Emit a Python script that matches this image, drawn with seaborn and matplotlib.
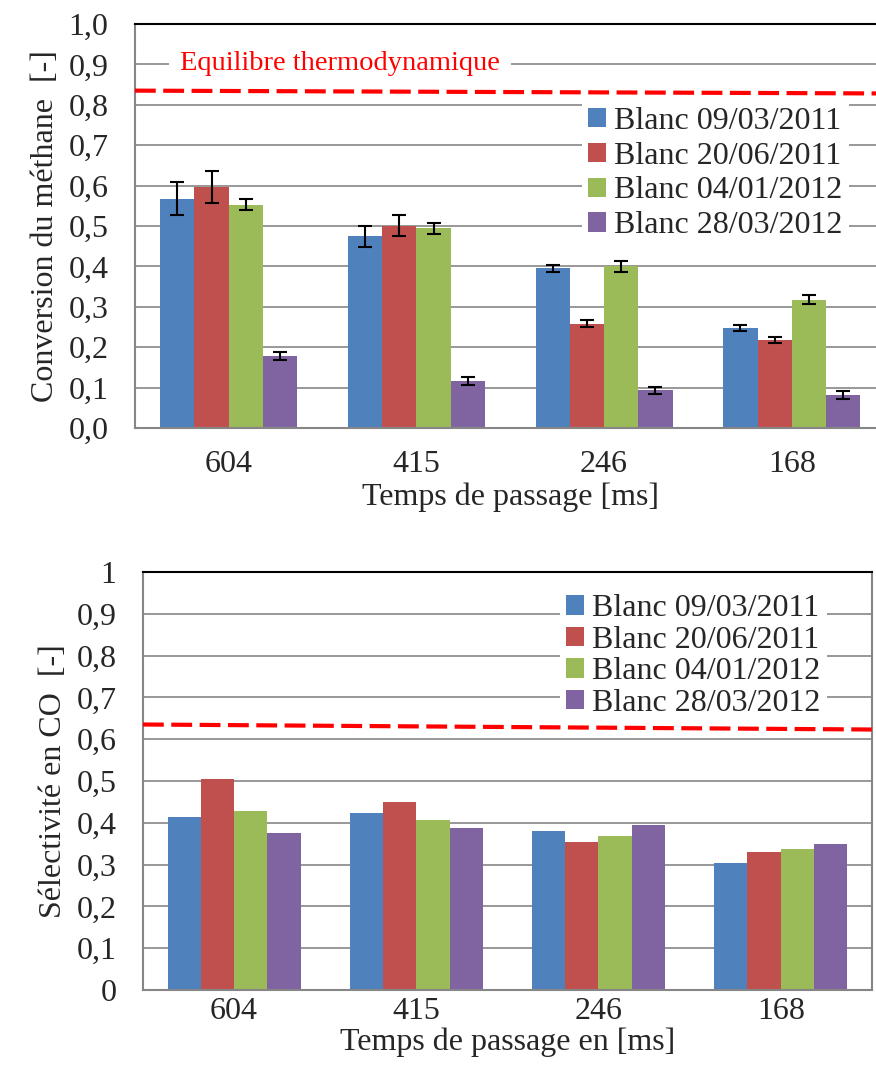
import pandas as pd
import matplotlib
matplotlib.use('Agg')
import matplotlib.pyplot as plt
import seaborn as sns

sns.set_style('white')
plt.rcParams['font.family'] = ['Liberation Serif', 'DejaVu Serif']

# donnees
temps = ['604', '415', '246', '168']
series = ['Blanc 09/03/2011', 'Blanc 20/06/2011', 'Blanc 04/01/2012', 'Blanc 28/03/2012']
couleurs = ['#4F81BD', '#C0504D', '#9BBB59', '#8064A2']

conv_0903 = [0.568, 0.474, 0.395, 0.247]
conv_2006 = [0.596, 0.501, 0.258, 0.218]
conv_0401 = [0.553, 0.494, 0.400, 0.318]
conv_2803 = [0.179, 0.117, 0.093, 0.082]

err_0903 = [0.040, 0.026, 0.009, 0.008]
err_2006 = [0.040, 0.025, 0.009, 0.008]
err_0401 = [0.013, 0.013, 0.013, 0.012]
err_2803 = [0.010, 0.010, 0.009, 0.009]

sel_0903 = [0.413, 0.423, 0.380, 0.303]
sel_2006 = [0.505, 0.450, 0.353, 0.329]
sel_0401 = [0.428, 0.406, 0.368, 0.337]
sel_2803 = [0.375, 0.387, 0.394, 0.349]

# equilibre thermodynamique (debut et fin de la ligne)
eq_x = [-0.5, 3.5]
eq_conv = [0.835, 0.828]
eq_sel = [0.635, 0.623]

yticks = [0.0, 0.1, 0.2, 0.3, 0.4, 0.5, 0.6, 0.7, 0.8, 0.9, 1.0]
ylabels_conv = ['0,0', '0,1', '0,2', '0,3', '0,4', '0,5', '0,6', '0,7', '0,8', '0,9', '1,0']
ylabels_sel = ['0', '0,1', '0,2', '0,3', '0,4', '0,5', '0,6', '0,7', '0,8', '0,9', '1']


def to_long(cols):
    rows = []
    for s, vals in zip(series, cols):
        for t, v in zip(temps, vals):
            rows.append({'Temps': t, 'Serie': s, 'Valeur': v})
    return pd.DataFrame(rows)


conv_df = to_long([conv_0903, conv_2006, conv_0401, conv_2803])
sel_df = to_long([sel_0903, sel_2006, sel_0401, sel_2803])
errs = [err_0903, err_2006, err_0401, err_2803]

gris = '#868686'
fs = 23

fig = plt.figure(figsize=(8.76, 10.70), dpi=100)
ax1 = fig.add_axes([0.154, 0.600, 0.857, 0.3776])
ax2 = fig.add_axes([0.1632, 0.0748, 0.832, 0.3907])


def style_axe(ax, ylabs, right_spine):
    ax.set_xlim(-0.5, 3.5)
    ax.set_ylim(0, 1.0)
    ax.set_yticks(yticks)
    ax.set_yticklabels(ylabs)
    ax.set_axisbelow(True)
    ax.yaxis.grid(True, color=gris, linewidth=1.2)
    ax.xaxis.grid(False)
    ax.set_xticks([-0.5, 0.5, 1.5, 2.5, 3.5], minor=True)
    ax.tick_params(axis='x', which='major', length=0, labelsize=fs)
    ax.tick_params(axis='x', which='minor', length=7, width=1.2, color=gris, direction='out')
    ax.tick_params(axis='y', length=7, width=1.2, color=gris, direction='out', labelsize=fs, pad=12)
    for sp in ['left', 'bottom']:
        ax.spines[sp].set_color(gris)
        ax.spines[sp].set_linewidth(1.5)
    ax.spines['top'].set_visible(True)
    ax.spines['top'].set_color('black')
    ax.spines['top'].set_linewidth(1.5)
    ax.spines['right'].set_visible(right_spine)
    ax.spines['right'].set_color(gris)
    ax.spines['right'].set_linewidth(1.5)


# --- conversion du methane ---
sns.barplot(data=conv_df, x='Temps', y='Valeur', hue='Serie', palette=couleurs,
            errorbar=None, width=0.73, saturation=1, linewidth=0, ax=ax1)
for cont, e in zip(ax1.containers, errs):
    xs = [b.get_x() + b.get_width() / 2 for b in cont]
    hs = [b.get_height() for b in cont]
    ax1.errorbar(xs, hs, yerr=e, fmt='none', ecolor='black', elinewidth=1.5,
                 capsize=5, capthick=1.5, zorder=5)
ax1.plot(eq_x, eq_conv, color='red', linewidth=3, linestyle=(0, (5, 1.8)), zorder=4)
ax1.text(-0.26, 0.903, 'Equilibre thermodynamique', color='red', fontsize=20.5,
         va='center', ha='left',
         bbox=dict(facecolor='white', edgecolor='none', boxstyle='square,pad=0.4'))
style_axe(ax1, ylabels_conv, False)
ax1.set_xlabel('Temps de passage [ms]', fontsize=fs, labelpad=2)
ax1.tick_params(axis='x', which='major', pad=16)
ax1.set_ylabel('Conversion du méthane  [-]', fontsize=fs, labelpad=6)
ax1.legend(loc='upper right', bbox_to_anchor=(0.972, 0.85), fontsize=fs, frameon=True,
           facecolor='white', edgecolor='none', framealpha=1, fancybox=False,
           handlelength=0.55, handleheight=0.55, handletextpad=0.25,
           labelspacing=0.18, borderpad=0.2)

# --- selectivite en CO ---
sns.barplot(data=sel_df, x='Temps', y='Valeur', hue='Serie', palette=couleurs,
            errorbar=None, width=0.73, saturation=1, linewidth=0, ax=ax2)
ax2.plot(eq_x, eq_sel, color='red', linewidth=3, linestyle=(0, (5, 1.8)), zorder=4)
style_axe(ax2, ylabels_sel, True)
ax2.set_xlabel('Temps de passage en [ms]', fontsize=fs, labelpad=1)
ax2.tick_params(axis='x', which='major', pad=5)
ax2.set_ylabel('Sélectivité en CO  [-]', fontsize=fs, labelpad=6)
ax2.legend(loc='upper right', bbox_to_anchor=(0.96, 1.0), fontsize=fs, frameon=True,
           facecolor='white', edgecolor='none', framealpha=1, fancybox=False,
           handlelength=0.55, handleheight=0.55, handletextpad=0.25,
           labelspacing=0.08, borderpad=0.2)

fig.savefig('out.png', dpi=100)
